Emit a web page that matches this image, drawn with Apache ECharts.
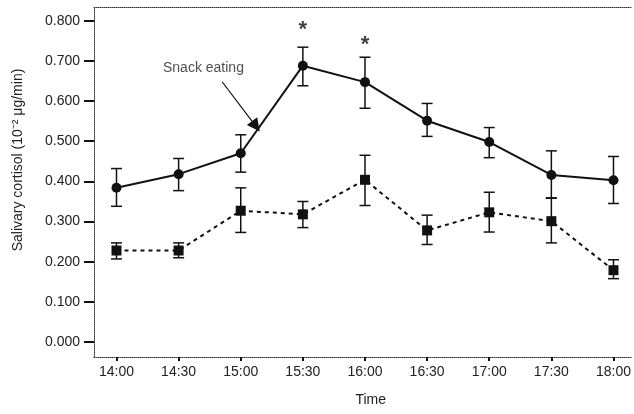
<!DOCTYPE html>
<html>
<head>
<meta charset="utf-8">
<script src="https://cdn.jsdelivr.net/npm/echarts@6/dist/echarts.min.js"></script>
<style>
  html, body { margin: 0; padding: 0; background: #fff; }
  #chart { width: 634px; height: 414px; }
</style>
</head>
<body>
<div id="chart"></div>
<script>
// time points (x axis)
const timeLabels = ['14:00', '14:30', '15:00', '15:30', '16:00', '16:30', '17:00', '17:30', '18:00'];
const yTicks = [0, 0.1, 0.2, 0.3, 0.4, 0.5, 0.6, 0.7, 0.8];

// solid line, circles
const snackMean = [0.384, 0.418, 0.470, 0.688, 0.647, 0.551, 0.498, 0.416, 0.403];
const snackLow = [0.338, 0.377, 0.423, 0.638, 0.582, 0.512, 0.459, 0.359, 0.345];
const snackHigh = [0.432, 0.457, 0.516, 0.734, 0.709, 0.594, 0.534, 0.476, 0.462];

// dashed line, squares
const controlMean = [0.228, 0.228, 0.327, 0.318, 0.404, 0.278, 0.323, 0.301, 0.179];
const controlLow = [0.207, 0.210, 0.273, 0.285, 0.340, 0.243, 0.274, 0.247, 0.158];
const controlHigh = [0.247, 0.247, 0.384, 0.350, 0.465, 0.316, 0.373, 0.358, 0.205];

// significance marks
const starX = [3, 4];
const starY = [0.790, 0.751];

// "Snack eating" note and arrow (data coords)
const noteXY = [1.40, 0.682];
const arrowFrom = [1.70, 0.648];
const arrowTo = [2.245, 0.537];

const myChart = echarts.init(document.getElementById('chart'));
const FONT = 'Liberation Sans';
const INK = '#111';

function errorBars(name, low, high) {
  return {
    name: name,
    type: 'custom',
    xAxisIndex: 0,
    data: low.map((l, i) => [i, l, high[i]]),
    encode: { x: 0, y: [1, 2] },
    z: 1,
    silent: true,
    renderItem(params, api) {
      const x = api.value(0);
      const top = api.coord([x, api.value(2)]);
      const bot = api.coord([x, api.value(1)]);
      const hw = 5.5;
      const style = { stroke: INK, lineWidth: 1.5 };
      return {
        type: 'group',
        children: [
          { type: 'line', shape: { x1: top[0], y1: top[1], x2: bot[0], y2: bot[1] }, style },
          { type: 'line', shape: { x1: top[0] - hw, y1: top[1], x2: top[0] + hw, y2: top[1] }, style },
          { type: 'line', shape: { x1: bot[0] - hw, y1: bot[1], x2: bot[0] + hw, y2: bot[1] }, style },
        ],
      };
    },
  };
}

const option = {
  animation: false,
  backgroundColor: '#fff',
  textStyle: { fontFamily: FONT },
  grid: { left: 94, right: 0, top: 7, bottom: 57 },
  xAxis: [
    {
      type: 'value',
      min: -0.362,
      max: 8.29,
      name: 'Time',
      nameLocation: 'middle',
      nameGap: 36,
      nameTextStyle: { fontSize: 14, color: '#222', fontFamily: FONT, padding: [0, 0, 0, 16] },
      axisLine: { onZero: false, lineStyle: { color: '#333', width: 1, type: 'dotted' } },
      axisTick: { show: true, length: 4, lineStyle: { color: INK, width: 2 }, customValues: timeLabels.map((t, i) => i) },
      axisLabel: {
        margin: 8,
        fontSize: 14,
        color: '#222',
        fontFamily: FONT,
        customValues: timeLabels.map((t, i) => i),
        formatter: (v) => timeLabels[Math.round(v)],
      },
      splitLine: { show: false },
    },
    {
      type: 'value',
      position: 'top',
      min: -0.362,
      max: 8.29,
      axisLine: { show: true, onZero: false, lineStyle: { color: '#333', width: 1, type: 'dotted' } },
      axisTick: { show: false },
      axisLabel: { show: false },
      splitLine: { show: false },
    },
  ],
  yAxis: {
    type: 'value',
    min: -0.037,
    max: 0.834,
    axisLine: { show: true, onZero: false, lineStyle: { color: '#333', width: 1, type: 'dotted' } },
    axisTick: { show: true, length: 10, lineStyle: { color: INK, width: 2 }, customValues: yTicks },
    axisLabel: {
      margin: 14,
      fontSize: 14,
      color: '#222',
      fontFamily: FONT,
      customValues: yTicks,
      formatter: (v) => v.toFixed(3),
    },
    splitLine: { show: false },
  },
  graphic: [
    {
      type: 'text',
      x: 18,
      y: 160,
      rotation: Math.PI / 2,
      style: {
        text: 'Salivary cortisol (10⁻² μg/min)',
        fontSize: 14,
        fontFamily: FONT,
        fill: '#222',
        align: 'center',
        verticalAlign: 'middle',
      },
    },
  ],
  series: [
    errorBars('snack err', snackLow, snackHigh),
    errorBars('control err', controlLow, controlHigh),
    {
      name: 'Snack',
      type: 'line',
      data: snackMean.map((v, i) => [i, v]),
      symbol: 'circle',
      symbolSize: 10,
      lineStyle: { color: INK, width: 2 },
      itemStyle: { color: INK },
      z: 3,
    },
    {
      name: 'Control',
      type: 'line',
      data: controlMean.map((v, i) => [i, v]),
      symbol: 'rect',
      symbolSize: 10,
      lineStyle: { color: INK, width: 2, type: [4, 4] },
      itemStyle: { color: INK },
      z: 3,
    },
    {
      name: 'stars',
      type: 'scatter',
      data: starX.map((x, i) => [x, starY[i]]),
      symbolSize: 1,
      itemStyle: { color: 'rgba(0,0,0,0)' },
      silent: true,
      label: {
        show: true,
        position: 'inside',
        offset: [0, 5],
        formatter: '*',
        fontSize: 22,
        fontWeight: 'bold',
        color: INK,
        fontFamily: FONT,
      },
    },
    {
      name: 'note',
      type: 'scatter',
      data: [noteXY],
      symbolSize: 1,
      itemStyle: { color: 'rgba(0,0,0,0)' },
      silent: true,
      label: {
        show: true,
        position: 'inside',
        formatter: 'Snack eating',
        fontSize: 14,
        color: '#222',
        fontFamily: FONT,
      },
      markLine: {
        silent: true,
        symbol: ['none', 'triangle'],
        symbolSize: 13,
        label: { show: false },
        lineStyle: { color: INK, width: 1.2, type: 'solid' },
        data: [[{ coord: arrowFrom }, { coord: arrowTo }]],
      },
    },
  ],
};

myChart.setOption(option);
</script>
</body>
</html>
